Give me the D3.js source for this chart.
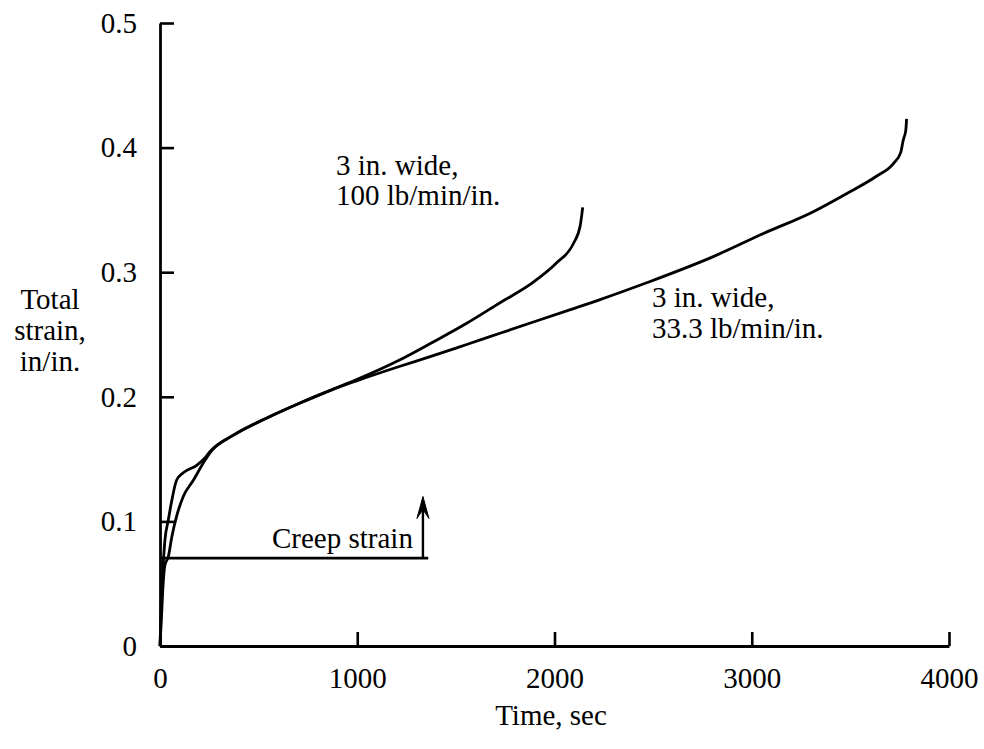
<!DOCTYPE html>
<html>
<head>
<meta charset="utf-8">
<script src="https://cdn.jsdelivr.net/npm/d3@7"></script>
<style>
  html, body { margin: 0; padding: 0; background: #fff; }
  svg { display: block; }
  text { font-family: "Liberation Serif", "Times New Roman", serif; fill: #000; }
</style>
</head>
<body>
<svg id="chart" width="984" height="749"></svg>
<script>
// ---- data ----
const xTicks = [0, 1000, 2000, 3000, 4000];
const yTicks = [0, 0.1, 0.2, 0.3, 0.4, 0.5];

// 3 in. wide, 100 lb/min/in.
const timeFast   = [0, 6, 12, 18, 25, 42, 60, 84, 118, 186, 228, 253, 370, 542, 710, 877, 1000, 1217, 1385, 1555, 1724, 1893, 2011, 2096, 2130, 2143];
const strainFast = [0, 0.03, 0.055, 0.07, 0.085, 0.101, 0.117, 0.133, 0.139, 0.145, 0.151, 0.156, 0.169, 0.183, 0.195, 0.206, 0.214, 0.2297, 0.244, 0.259, 0.2755, 0.292, 0.3075, 0.323, 0.337, 0.352];

// 3 in. wide, 33.3 lb/min/in.
const timeSlow   = [0, 8, 16, 25, 42, 60, 84, 118, 169, 220, 253, 370, 542, 710, 877, 1000, 1217, 1385, 1555, 1724, 1893, 2062, 2231, 2467, 2805, 3059, 3312, 3480, 3632, 3717, 3755, 3768, 3781, 3785];
const strainSlow = [0, 0.025, 0.05, 0.065, 0.0715, 0.0876, 0.104, 0.12, 0.133, 0.147, 0.155, 0.169, 0.183, 0.195, 0.206, 0.213, 0.2245, 0.233, 0.242, 0.251, 0.260, 0.269, 0.278, 0.2915, 0.3125, 0.331, 0.3486, 0.363, 0.377, 0.387, 0.396, 0.406, 0.414, 0.423];

// creep strain annotation
const creepLevel = 0.0705;
const creepEndTime = 1360;
const arrowTime = 1333;
const arrowTop = 0.12;

const labelFast = ["3 in. wide,", "100 lb/min/in."];
const labelSlow = ["3 in. wide,", "33.3 lb/min/in."];
const yTitle = ["Total", "strain,", "in/in."];
const xTitle = "Time, sec";
const creepLabel = "Creep strain";

// ---- chart ----
const svg = d3.select("#chart");
const x = d3.scaleLinear().domain([0, 4000]).range([160, 949]);
const y = d3.scaleLinear().domain([0, 0.5]).range([646, 23]);

const fs = 29;

const xAxis = d3.axisBottom(x).tickValues(xTicks).tickSize(-14).tickSizeOuter(0).tickPadding(21)
  .tickFormat(d3.format("d"));
const gx = svg.append("g").attr("transform", `translate(0,${y(0)})`).call(xAxis);

const yAxis = d3.axisLeft(y).tickValues(yTicks).tickSize(-14).tickSizeOuter(0).tickPadding(23)
  .tickFormat(d => d === 0 ? "0" : d.toFixed(1));
const gy = svg.append("g").attr("transform", `translate(${x(0)},0)`).call(yAxis);

[gx, gy].forEach(g => {
  g.select(".domain").attr("stroke", "#000").attr("stroke-width", 2.8);
  g.selectAll(".tick line").attr("stroke", "#000").attr("stroke-width", 2.6);
  g.selectAll(".tick text").style("font-family", '"Liberation Serif", serif').style("font-size", fs + "px").attr("fill", "#000");
});

// axis titles
svg.append("text").attr("x", 551).attr("y", 725).attr("text-anchor", "middle")
  .style("font-size", fs + "px").text(xTitle);
const yt = svg.append("text").attr("text-anchor", "middle").style("font-size", fs + "px");
yTitle.forEach((t, i) => yt.append("tspan").attr("x", 50).attr("y", 309 + i * 31).text(t));

// curves
const line = d3.line().x(d => x(d[0])).y(d => y(d[1])).curve(d3.curveMonotoneX);
const fast = timeFast.map((t, i) => [t, strainFast[i]]);
const slow = timeSlow.map((t, i) => [t, strainSlow[i]]);
[fast, slow].forEach(data => {
  svg.append("path").datum(data).attr("d", line)
    .attr("fill", "none").attr("stroke", "#000").attr("stroke-width", 2.8).attr("stroke-linejoin", "round");
});

// creep strain line + arrow
svg.append("line").attr("x1", x(0)).attr("x2", x(creepEndTime)).attr("y1", y(creepLevel)).attr("y2", y(creepLevel))
  .attr("stroke", "#000").attr("stroke-width", 2.6);
svg.append("line").attr("x1", x(arrowTime)).attr("x2", x(arrowTime)).attr("y1", y(creepLevel)).attr("y2", y(arrowTop) + 4)
  .attr("stroke", "#000").attr("stroke-width", 2.4);
const ax = x(arrowTime), ay = y(arrowTop);
svg.append("path").attr("d", `M${ax - 6},${ay + 22} L${ax},${ay} L${ax + 6},${ay + 22} L${ax},${ay + 13} Z`)
  .attr("fill", "#000").attr("stroke", "#000").attr("stroke-width", 1);
svg.append("text").attr("x", x(arrowTime) - 10).attr("y", y(creepLevel) - 10).attr("text-anchor", "end")
  .style("font-size", fs + "px").text(creepLabel);

// curve labels
const lf = svg.append("text").style("font-size", fs + "px");
labelFast.forEach((t, i) => lf.append("tspan").attr("x", 336).attr("y", 175 + i * 30).text(t));
const ls = svg.append("text").style("font-size", fs + "px");
labelSlow.forEach((t, i) => ls.append("tspan").attr("x", 652).attr("y", 307 + i * 31).text(t));
</script>
</body>
</html>
